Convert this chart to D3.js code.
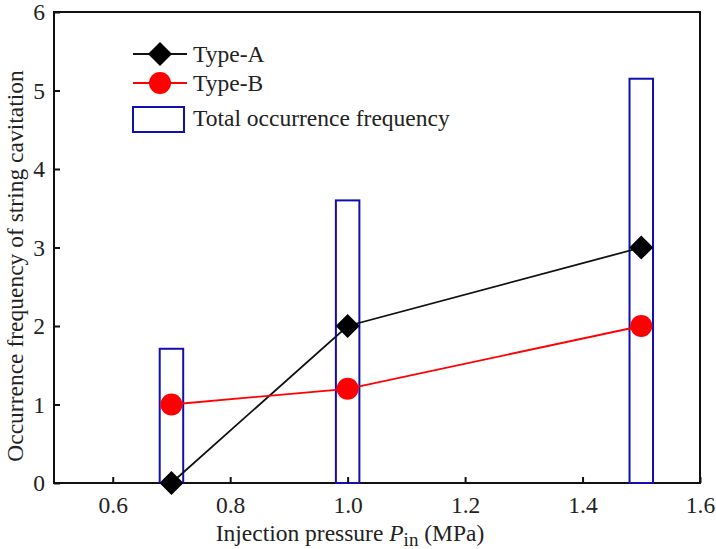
<!DOCTYPE html>
<html>
<head>
<meta charset="utf-8">
<script src="https://cdn.jsdelivr.net/npm/d3@7"></script>
<style>
body { margin: 0; background: #fff; }
</style>
</head>
<body>
<svg width="716" height="549"></svg>
<script>
const pressure = [0.7, 1.0, 1.5];
const typeA = [0, 2, 3];
const typeB = [1, 1.2, 2];
const total = [1.71, 3.6, 5.15];
const xTicks = [0.6, 0.8, 1.0, 1.2, 1.4, 1.6];
const yTicks = [0, 1, 2, 3, 4, 5, 6];

const FONT = "'Liberation Serif', 'Times New Roman', serif";
const FS = 23.5;
const svg = d3.select("svg");
const plotL = 54, plotR = 700, plotT = 12, plotB = 483;

const x = d3.scaleLinear().domain([0.5, 1.6]).range([plotL, plotR]);
const y = d3.scaleLinear().domain([0, 6]).range([plotB, plotT]);

// frame
svg.append("rect")
    .attr("x", plotL).attr("y", plotT)
    .attr("width", plotR - plotL).attr("height", plotB - plotT)
    .attr("fill", "none").attr("stroke", "#111").attr("stroke-width", 2);

// bars (outline only)
const barW = x(0.52) - x(0.5);
svg.selectAll(".bar")
    .data(pressure)
    .enter().append("rect")
    .attr("class", "bar")
    .attr("x", d => x(d) - barW)
    .attr("y", (d, i) => y(total[i]))
    .attr("width", barW * 2)
    .attr("height", (d, i) => y(0) - y(total[i]))
    .attr("fill", "none")
    .attr("stroke", "#1010b0")
    .attr("stroke-width", 2);

// axes
const xAxis = svg.append("g")
    .attr("transform", "translate(0," + plotB + ")")
    .call(d3.axisBottom(x).tickValues(xTicks).tickSizeInner(-6).tickSizeOuter(0).tickPadding(13)
        .tickFormat(d3.format(".1f")));
xAxis.select(".domain").remove();
xAxis.selectAll("line").attr("stroke", "#111").attr("stroke-width", 2);
xAxis.selectAll("text").attr("font-size", FS).attr("font-family", FONT).attr("fill", "#222");

const yAxis = svg.append("g")
    .attr("transform", "translate(" + plotL + ",0)")
    .call(d3.axisLeft(y).tickValues(yTicks).tickSizeInner(-6).tickSizeOuter(0).tickPadding(9)
        .tickFormat(d3.format("d")));
yAxis.select(".domain").remove();
yAxis.selectAll("line").attr("stroke", "#111").attr("stroke-width", 2);
yAxis.selectAll("text").attr("font-size", FS).attr("font-family", FONT).attr("fill", "#222");

// lines
const line = d3.line().x((d, i) => x(pressure[i])).y(d => y(d));
svg.append("path").datum(typeA).attr("d", line)
    .attr("fill", "none").attr("stroke", "#111").attr("stroke-width", 1.8);
svg.append("path").datum(typeB).attr("d", line)
    .attr("fill", "none").attr("stroke", "red").attr("stroke-width", 1.8);

const diamond = d3.symbol().type(d3.symbolSquare).size(290);
function drawDiamond(sel, cx, cy) {
    sel.append("path").attr("d", diamond())
        .attr("transform", "translate(" + cx + "," + cy + ") rotate(45)")
        .attr("fill", "#000");
}

svg.append("g").selectAll("path")
    .data(typeA).enter().append("path")
    .attr("d", diamond())
    .attr("transform", (d, i) => "translate(" + x(pressure[i]) + "," + y(d) + ") rotate(45)")
    .attr("fill", "#000");

svg.append("g").selectAll("circle")
    .data(typeB).enter().append("circle")
    .attr("cx", (d, i) => x(pressure[i]))
    .attr("cy", d => y(d))
    .attr("r", 11)
    .attr("fill", "red");

// legend
const lg = svg.append("g").attr("font-family", FONT).attr("font-size", FS).attr("fill", "#222");
lg.append("line").attr("x1", 133).attr("x2", 187).attr("y1", 54).attr("y2", 54)
    .attr("stroke", "#111").attr("stroke-width", 1.8);
drawDiamond(lg, 160, 54);
lg.append("text").attr("x", 193).attr("y", 62).text("Type-A");

lg.append("line").attr("x1", 133).attr("x2", 187).attr("y1", 83).attr("y2", 83)
    .attr("stroke", "red").attr("stroke-width", 1.8);
lg.append("circle").attr("cx", 160).attr("cy", 83).attr("r", 11).attr("fill", "red");
lg.append("text").attr("x", 193).attr("y", 91).text("Type-B");

lg.append("rect").attr("x", 133).attr("y", 107).attr("width", 51).attr("height", 25)
    .attr("fill", "none").attr("stroke", "#1010b0").attr("stroke-width", 2);
lg.append("text").attr("x", 193).attr("y", 126).text("Total occurrence frequency");

// axis titles
const xt = svg.append("text")
    .attr("x", 350)
    .attr("y", 541)
    .attr("text-anchor", "middle")
    .attr("font-family", FONT)
    .attr("font-size", FS)
    .attr("fill", "#222");
xt.append("tspan").text("Injection pressure ");
xt.append("tspan").attr("font-style", "italic").text("P");
xt.append("tspan").attr("font-size", 19).attr("dy", 5).text("in");
xt.append("tspan").attr("dy", -5).text(" (MPa)");

svg.append("text")
    .attr("transform", "translate(23,266) rotate(-90)")
    .attr("text-anchor", "middle")
    .attr("font-family", FONT)
    .attr("font-size", FS)
    .attr("fill", "#222")
    .text("Occurrence frequency of string cavitation");
</script>
</body>
</html>
